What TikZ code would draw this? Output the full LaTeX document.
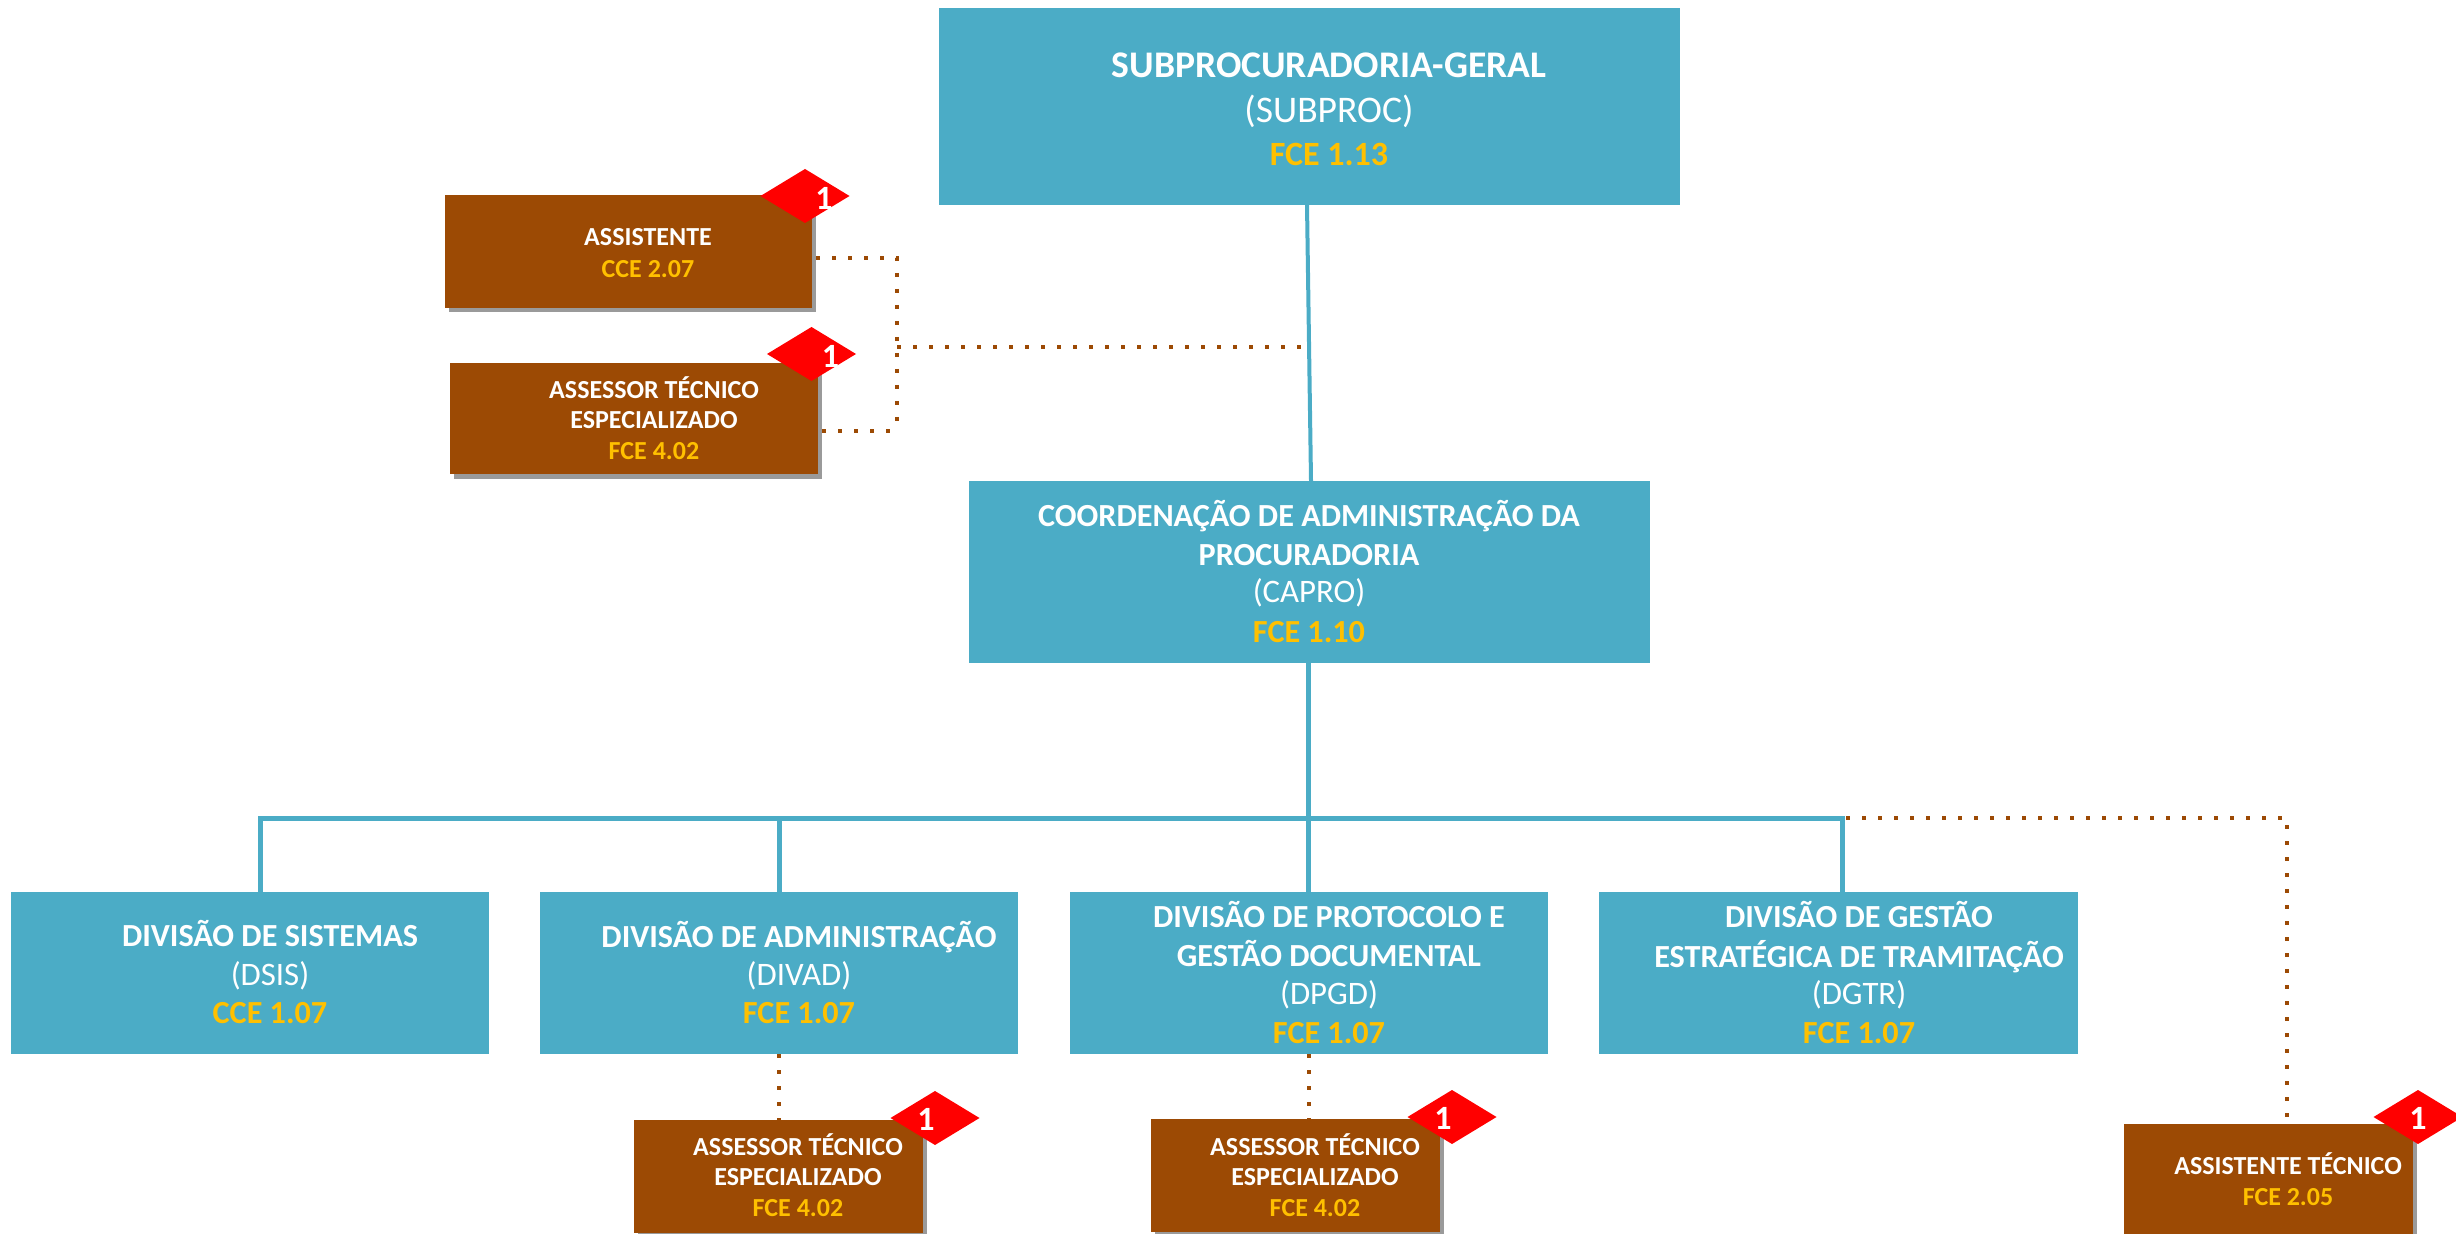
\documentclass[tikz,border=0pt]{standalone}
\usepackage{fontspec}
\setmainfont{Carlito}
\usetikzlibrary{shapes.geometric}
\definecolor{tealbox}{HTML}{4BACC6}
\definecolor{brownbox}{HTML}{9C4A04}
\definecolor{goldtxt}{HTML}{FFC000}
\definecolor{shadowgray}{HTML}{9A9A9A}
\newcommand{\fsz}[1]{\fontsize{#1}{#1}\selectfont}
\newcommand{\gold}[1]{\textcolor{goldtxt}{#1}}
\tikzset{
  shade/.style={fill=shadowgray,draw=none},
  txt/.style={text=white,align=center,inner sep=0pt},
  tT/.style={txt,font=\fsz{18.8}\bfseries},
  tTr/.style={txt,font=\fsz{18.8}},
  tA/.style={txt,font=\fsz{17}\bfseries},
  tB/.style={txt,font=\fsz{16.1}\bfseries},
  tBr/.style={txt,font=\fsz{16.4}},
  tC/.style={txt,font=\fsz{13}\bfseries},
  badge/.style={fill=red,draw=none},
  bl/.style={draw=tealbox,line width=2.5pt},
  blthin/.style={draw=tealbox,line width=2pt},
  dots/.style={draw=brownbox,line width=2pt,dash pattern=on 2pt off 6pt},
}
\newcommand{\bx}[6]{% name style x0 y0 x1 y1
  \path[#2] (#3,-#4) rectangle (#5,-#6);
  \coordinate (#1-t) at ({(#3+#5)/2},-#4);
  \coordinate (#1-b) at ({(#3+#5)/2},-#6);
}
\newcommand{\dia}[5]{% name cx cy textx texty
  \path[badge] (#2-44.5,-#3) -- (#2,-#3+27) -- (#2+44.5,-#3) -- (#2,-#3-27) -- cycle;
  \node[tA] (#1) at (#4,-#5) {1};
}
\begin{document}
\begin{tikzpicture}[x=0.5pt,y=0.5pt]
\useasboundingbox (0,0) rectangle (2456,-1234);
\clip (0,0) rectangle (2456,-1234);
% top
\bx{sub}{fill=tealbox}{939}{8}{1680}{205}
\coordinate (subl) at (1307,-205);
\bx{capro}{fill=tealbox}{969}{481}{1650}{663}
\coordinate (caprol) at (1311,-481);
\draw[blthin] (subl) -- (caprol);
\node[tT] (t1) at (1329,-65) {SUBPROCURADORIA-GERAL};
\node[tTr] (t2) at (1329,-111) {(SUBPROC)};
\node[tA] (t3) at (1329,-154) {\gold{FCE 1.13}};
\node[tB] (c1) at (1309,-516) {COORDENAÇÃO DE ADMINISTRAÇÃO DA};
\node[tB] (c2) at (1309,-555) {PROCURADORIA};
\node[tBr] (c3) at (1309,-593) {(CAPRO)};
\node[tB] (c4) at (1309,-632) {\gold{FCE 1.10}};
% assistente
\path[shade] (449,-199) rectangle (816,-312);
\bx{a1}{fill=brownbox}{445}{195}{812}{308}
\path[shade] (454,-368) rectangle (822,-479);
\bx{a2}{fill=brownbox}{450}{363}{818}{474}
\dia{d1}{805}{196}{824}{198}
\dia{d2}{811.5}{354}{830.5}{356}
\node[tC] (a1x) at (648,-237) {ASSISTENTE};
\node[tC] (a1y) at (648,-269) {\gold{CCE 2.07}};
\node[tC] (a2x) at (654,-388) {ASSESSOR TÉCNICO};
\node[tC] (a2y) at (654,-420) {ESPECIALIZADO};
\node[tC] (a2z) at (654,-451) {\gold{FCE 4.02}};
\coordinate (j1) at (897,-258);
\coordinate (j2) at (897,-431);
\coordinate (j3) at (897,-347);
\coordinate (a1e) at (816,-258);
\coordinate (a2e) at (822,-431);
\coordinate (subj) at (1307,-347);
\draw[dots] (a1e) -- (j1) -- (j2);
\draw[dots] (a2e) -- (j2);
\draw[dots] (j3) -- (subj);
% tree
\coordinate (h) at (1308,-818);
\coordinate (hl) at (260,-818);
\coordinate (hr) at (1842,-818);
\draw[bl] (1308,-663) -- (h);
\draw[bl,line cap=rect] (hl) -- (hr);
\draw[bl] (hl) -- (260,-892);
\draw[bl] (779,-818) -- (779,-892);
\draw[bl] (h) -- (1308,-892);
\draw[bl] (hr) -- (1842,-892);
\bx{v1}{fill=tealbox}{11}{892}{489}{1054}
\bx{v2}{fill=tealbox}{540}{892}{1018}{1054}
\bx{v3}{fill=tealbox}{1070}{892}{1548}{1054}
\bx{v4}{fill=tealbox}{1599}{892}{2078}{1054}
\node[tB] (v1a) at (270,-934) {DIVISÃO DE SISTEMAS};
\node[tBr] (v1b) at (270,-976) {(DSIS)};
\node[tB] (v1c) at (270,-1013) {\gold{CCE 1.07}};
\node[tB] (v2a) at (799,-937) {DIVISÃO DE ADMINISTRAÇÃO};
\node[tBr] (v2b) at (799,-976) {(DIVAD)};
\node[tB] (v2c) at (799,-1013) {\gold{FCE 1.07}};
\node[tB] (v3a) at (1329,-915) {DIVISÃO DE PROTOCOLO E};
\node[tB] (v3b) at (1329,-954) {GESTÃO DOCUMENTAL};
\node[tBr] (v3c) at (1329,-995) {(DPGD)};
\node[tB] (v3d) at (1329,-1033) {\gold{FCE 1.07}};
\node[tB] (v4a) at (1859,-915) {DIVISÃO DE GESTÃO};
\node[tB] (v4b) at (1859,-957) {ESTRATÉGICA DE TRAMITAÇÃO};
\node[tBr] (v4c) at (1859,-995) {(DGTR)};
\node[tB] (v4d) at (1859,-1033) {\gold{FCE 1.07}};
% bottom
\path[shade] (638,-1124) rectangle (927,-1240);
\bx{b1}{fill=brownbox}{634}{1120}{923}{1233}
\path[shade] (1155,-1122) rectangle (1444,-1240);
\bx{b2}{fill=brownbox}{1151}{1119}{1440}{1232}
\path[shade] (2128,-1128) rectangle (2417,-1240);
\bx{b3}{fill=brownbox}{2124}{1124}{2413}{1240}
\dia{d3}{935}{1118}{926}{1119}
\dia{d4}{1452}{1117}{1443}{1118}
\dia{d5}{2418}{1117}{2418}{1118}
\node[tC] (b1a) at (798,-1145) {ASSESSOR TÉCNICO};
\node[tC] (b1b) at (798,-1177) {ESPECIALIZADO};
\node[tC] (b1c) at (798,-1208) {\gold{FCE 4.02}};
\node[tC] (b2a) at (1315,-1145) {ASSESSOR TÉCNICO};
\node[tC] (b2b) at (1315,-1177) {ESPECIALIZADO};
\node[tC] (b2c) at (1315,-1208) {\gold{FCE 4.02}};
\node[tC] (b3a) at (2288,-1164) {ASSISTENTE TÉCNICO};
\node[tC] (b3b) at (2288,-1197) {\gold{FCE 2.05}};
\draw[dots] (779,-1054) -- (779,-1120);
\draw[dots] (1309,-1054) -- (1309,-1119);
\coordinate (q) at (2287,-818);
\coordinate (hrd) at (1846,-818);
\draw[dots] (hrd) -- (q) -- (b3-t -| q);
\end{tikzpicture}
\end{document}
